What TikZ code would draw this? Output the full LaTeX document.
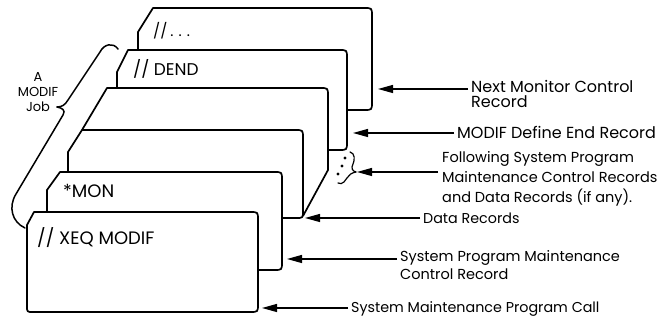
\documentclass[tikz,border=0pt]{standalone}
\usepackage{fontspec}
\setmainfont{Poppins}
\usetikzlibrary{arrows.meta}
\begin{document}
\begin{tikzpicture}[x=1pt,y=-1pt,
  card/.style={line width=1.7pt, fill=white, line join=round},
  cardline/.style={line width=1.7pt, line join=round},
  arr/.style={line width=1.2pt, -{Triangle[length=15pt,width=8pt]}},
  lbl/.style={anchor=base west, inner sep=0pt, align=left},
  ctext/.style={anchor=base west, inner sep=0pt, font=\fontsize{18}{20}\selectfont},
  brace/.style={line width=1.5pt, line cap=round}]
\useasboundingbox (0,0) rectangle (665,320);
% card 6
\draw[card] (138,32) -- (153,8) -- (364,8) .. controls (372,8) .. (372,16) -- (372,102) .. controls (372,110) .. (364,110) -- (138,110) -- cycle;
\node[ctext, font=\fontsize{15}{18}\selectfont] (c6) at (153,37) {//\hspace{3pt}.\hspace{5pt}.\hspace{5pt}.};
% card 5
\draw[card] (117,72) -- (128,50) -- (339,50) .. controls (347,50) .. (347,58) -- (347,142) .. controls (347,150) .. (339,150) -- (117,150) -- cycle;
\node[ctext, font=\fontsize{17}{18}\selectfont] (c5) at (133,76) {// DEND};
% deck
\fill[white] (82,130) -- (107,88) -- (328,88) -- (328,172) -- (303,218) -- (82,218) -- cycle;
\draw[cardline] (82,130) -- (107,88) -- (320,88) .. controls (328,88) .. (328,96) -- (328,170) -- (303,216);
% card 3
\draw[card] (68,152) -- (82,130) -- (295,130) .. controls (303,130) .. (303,138) -- (303,211) .. controls (303,218) .. (296,218) -- (68,218) -- cycle;
% card 2
\draw[card] (47,190) -- (60,172) -- (274,172) .. controls (282,172) .. (282,180) -- (282,262) .. controls (282,270) .. (274,270) -- (47,270) -- cycle;
\node[ctext] (c2) at (63,198) {*MON};
% card 1
\draw[card] (27,225) -- (34,212) -- (250,212) .. controls (258,212) .. (258,220) -- (258,304) .. controls (258,312) .. (250,312) -- (33,312) .. controls (27,312) .. (27,306) -- cycle;
\node[ctext] (c1) at (37,245) {// XEQ MODIF};
% big brace
\draw[brace] (118,49) .. controls (113,42) and (104,44) .. (100,52) -- (68,100) .. controls (65,105) and (62,107) .. (57,107);
\draw[brace] (57,107) .. controls (62,108) and (66,110) .. (63,115) -- (16,194) .. controls (8,207) and (12,222) .. (25,228);
\node[align=center, inner sep=0pt, font=\fontsize{13}{15}\selectfont] (job) at (38,92) {A\\MODIF\\Job};
% small brace and dots
\draw[line width=1.2pt, line cap=round] (350,152) .. controls (355,153) and (355,160) .. (353,164) .. controls (351,168) and (352,171) .. (356,172);
\draw[line width=1.2pt, line cap=round] (356,172) .. controls (351,173) and (349,175) .. (347,178) -- (344,182) .. controls (342,184) and (340,184) .. (338,183);
\fill (345,158) circle (1.6);
\fill (342,166) circle (1.6);
\fill (338,174) circle (1.6);
% labels and arrows
\coordinate (p1) at (378,89);
\node[lbl, font=\fontsize{16}{15}\selectfont] (t1) at (471,108) {Next Monitor Control\\Record};
\draw[arr] ([xshift=-3pt]t1.west |- p1) -- (p1);
\coordinate (p2) at (353,133);
\node[lbl, font=\fontsize{16}{15}\selectfont] (t2) at (457,139) {MODIF Define End Record};
\draw[arr] ([xshift=-3pt]t2.west |- p2) -- (p2);
\coordinate (p3) at (357,172);
\node[lbl, font=\fontsize{14.5}{20}\selectfont] (t3) at (442,203) {Following System Program\\Maintenance Control Records\\and Data Records (if any).};
\draw[arr] ([xshift=-4pt]t3.west |- p3) -- (p3);
\coordinate (p4) at (305,218);
\node[lbl, font=\fontsize{14.3}{15}\selectfont] (t4) at (423,224) {Data Records};
\draw[arr] ([xshift=-3pt]t4.west |- p4) -- (p4);
\coordinate (p5) at (287,259);
\node[lbl, font=\fontsize{14.5}{18}\selectfont] (t5) at (400,280) {System Program Maintenance\\Control Record};
\draw[arr] ([xshift=-3pt]t5.west |- p5) -- (p5);
\coordinate (p6) at (262,308);
\node[lbl, font=\fontsize{14.3}{15}\selectfont] (t6) at (351,313) {System Maintenance Program Call};
\draw[arr] ([xshift=-3pt]t6.west |- p6) -- (p6);
\end{tikzpicture}
\end{document}
